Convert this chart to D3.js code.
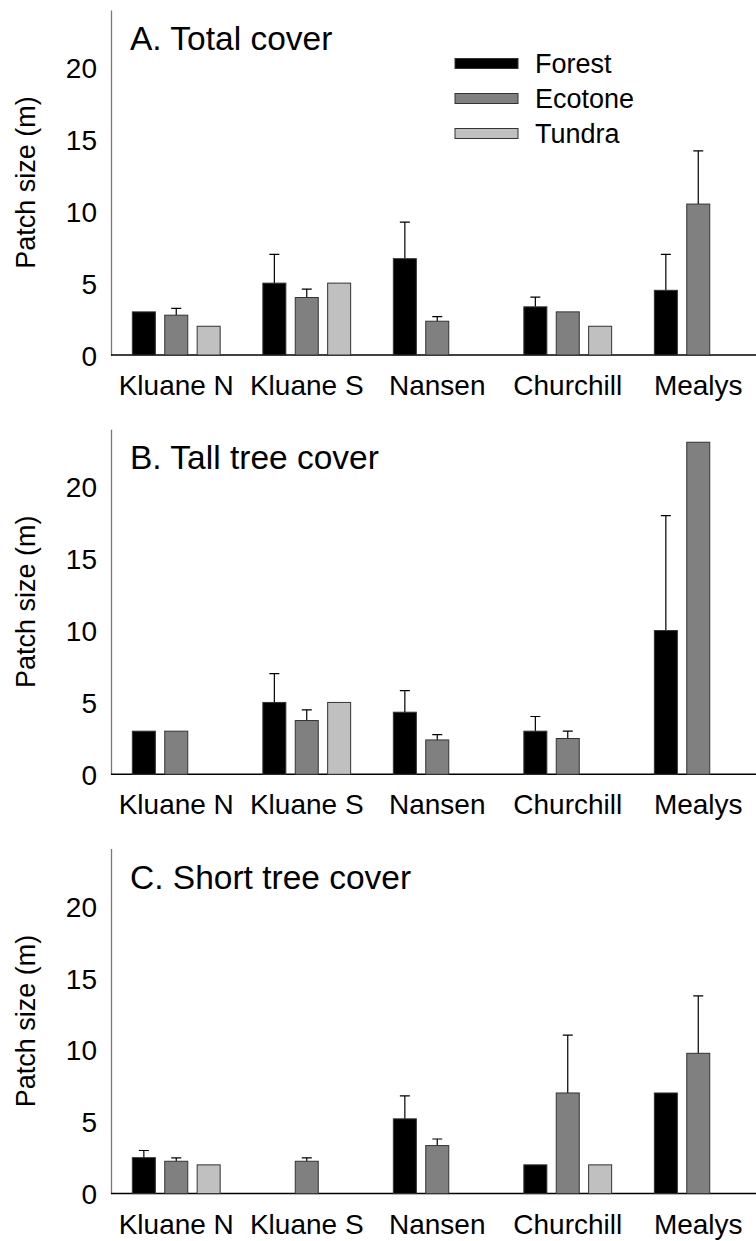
<!DOCTYPE html>
<html>
<head>
<meta charset="utf-8">
<script src="https://cdn.jsdelivr.net/npm/d3@7"></script>
<style>
  body { margin: 0; background: #fff; }
  svg { display: block; font-family: "Liberation Sans", Arial, sans-serif; }
</style>
</head>
<body>
<svg id="chart" width="756" height="1241"></svg>
<script>
// sites along x, habitat series
const sites = ["Kluane N", "Kluane S", "Nansen", "Churchill", "Mealys"];
const series = ["Forest", "Ecotone", "Tundra"];
const colors = ["#000000", "#808080", "#c0c0c0"];
const yTicks = [0, 5, 10, 15, 20];

// A. Total cover
const totalForest = [3.0, 5.0, 6.7, 3.35, 4.5];
const totalForestSE = [null, 2.0, 2.55, 0.67, 2.5];
const totalEcotone = [2.77, 4.0, 2.35, 3.0, 10.5];
const totalEcotoneSE = [0.48, 0.58, 0.32, null, 3.7];
const totalTundra = [2.0, 5.0, null, 2.0, null];
const totalTundraSE = [null, null, null, null, null];

// B. Tall tree cover
const tallForest = [3.0, 5.0, 4.32, 3.0, 10.0];
const tallForestSE = [null, 2.0, 1.5, 1.02, 8.0];
const tallEcotone = [3.0, 3.74, 2.39, 2.49, 23.1];
const tallEcotoneSE = [null, 0.74, 0.37, 0.51, null];
const tallTundra = [null, 5.0, null, null, null];
const tallTundraSE = [null, null, null, null, null];

// C. Short tree cover
const shortForest = [2.5, null, 5.2, 2.0, 7.0];
const shortForestSE = [0.5, null, 1.6, null, null];
const shortEcotone = [2.25, 2.25, 3.34, 7.0, 9.76];
const shortEcotoneSE = [0.23, 0.23, 0.46, 4.02, 3.99];
const shortTundra = [2.0, null, null, 2.0, null];
const shortTundraSE = [null, null, null, null, null];

const panels = [
  {title: "A. Total cover", vals: [totalForest, totalEcotone, totalTundra], se: [totalForestSE, totalEcotoneSE, totalTundraSE], legend: true},
  {title: "B. Tall tree cover", vals: [tallForest, tallEcotone, tallTundra], se: [tallForestSE, tallEcotoneSE, tallTundraSE]},
  {title: "C. Short tree cover", vals: [shortForest, shortEcotone, shortTundra], se: [shortForestSE, shortEcotoneSE, shortTundraSE]}
];

const svg = d3.select("#chart");
const left = 111, plotH = 345, step = 419.3, top0 = 10;

const x0 = d3.scaleBand().domain(sites).range([left, left + 5 * 130.5]).padding(0);
const x1 = d3.scaleBand().domain(series).range([-48.6, 48.6]).paddingInner(0.29).paddingOuter(0.145);

panels.forEach(function(p, pi){
  const top = top0 + pi * step;
  const y = d3.scaleLinear().domain([0, 24]).range([top + plotH, top]);
  const g = svg.append("g");

  // y axis
  const ax = g.append("g")
    .attr("transform", "translate(" + left + ",0)")
    .call(d3.axisLeft(y).tickValues(yTicks).tickSize(0).tickSizeOuter(0).tickPadding(14));
  ax.select(".domain").attr("stroke", "#777").attr("stroke-width", 1.3);
  ax.selectAll("text").attr("font-size", 28).attr("fill", "#000")
    .attr("font-family", "Liberation Sans, Arial, sans-serif").attr("dy", "0.36em");

  // x baseline
  g.append("line")
    .attr("x1", left).attr("x2", 756)
    .attr("y1", y(0)).attr("y2", y(0))
    .attr("stroke", "#000").attr("stroke-width", 1.5);

  // site labels
  g.selectAll(".site").data(sites).enter().append("text")
    .attr("x", function(d){ return x0(d) + x0.bandwidth() / 2; })
    .attr("y", y(0) + 40)
    .attr("text-anchor", "middle")
    .attr("font-size", 28)
    .text(function(d){ return d; });

  // y title
  g.append("text")
    .attr("transform", "translate(35," + (top + plotH / 2) + ") rotate(-90)")
    .attr("text-anchor", "middle")
    .attr("font-size", 27)
    .text("Patch size (m)");

  // panel title
  g.append("text")
    .attr("x", 130).attr("y", top + 40)
    .attr("font-size", 33.5)
    .text(p.title);

  // bars
  const data = [];
  series.forEach(function(s, si){
    sites.forEach(function(site, i){
      if (p.vals[si][i] != null) data.push({site: site, s: s, si: si, v: p.vals[si][i], se: p.se[si][i]});
    });
  });

  const bx = function(d){ return x0(d.site) + x0.bandwidth() / 2 + x1(d.s); };

  g.selectAll(".err").data(data.filter(function(d){ return d.se != null; })).enter().append("path")
    .attr("d", function(d){
      const cx = bx(d) + x1.bandwidth() / 2;
      const yt = y(d.v + d.se);
      return "M" + cx + "," + y(d.v) + "V" + yt + "M" + (cx - 5) + "," + yt + "H" + (cx + 5);
    })
    .attr("stroke", "#000").attr("stroke-width", 1.2).attr("fill", "none");

  g.selectAll(".bar").data(data).enter().append("rect")
    .attr("x", bx)
    .attr("y", function(d){ return y(d.v); })
    .attr("width", x1.bandwidth())
    .attr("height", function(d){ return y(0) - y(d.v); })
    .attr("fill", function(d){ return colors[d.si]; })
    .attr("stroke", "#333").attr("stroke-width", 1);

  if (p.legend){
    const lg = g.append("g");
    series.forEach(function(s, si){
      const cy = 63.5 + si * 35;
      lg.append("rect")
        .attr("x", 455).attr("y", cy - 5).attr("width", 63).attr("height", 10)
        .attr("fill", colors[si]).attr("stroke", "#333").attr("stroke-width", 1);
      lg.append("text")
        .attr("x", 535).attr("y", cy).attr("dy", "0.35em")
        .attr("font-size", 27)
        .text(s);
    });
  }
});
</script>
</body>
</html>
